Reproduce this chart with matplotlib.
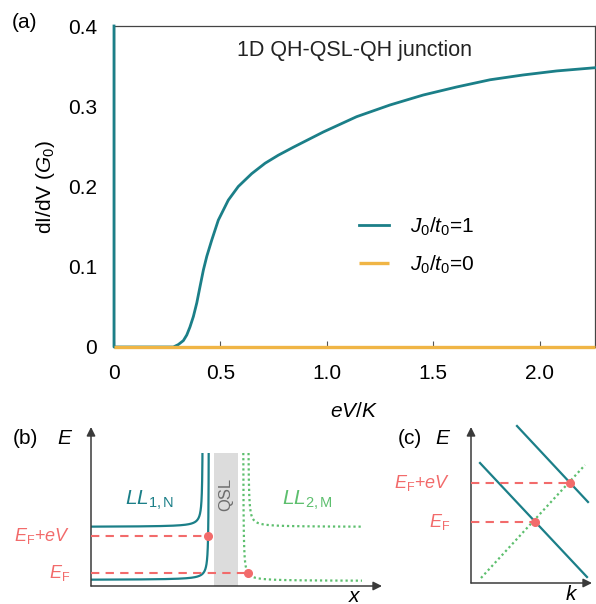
import numpy as np
import matplotlib
matplotlib.use("Agg")
import matplotlib.pyplot as plt
from matplotlib.ticker import FuncFormatter

plt.rcParams['font.family'] = ['Liberation Sans', 'DejaVu Sans']
plt.rcParams['mathtext.fontset'] = 'custom'
plt.rcParams['mathtext.rm'] = 'Liberation Sans'
plt.rcParams['mathtext.it'] = 'Liberation Sans:italic'
plt.rcParams['font.size'] = 15

# ---------------- data: panel (a) ----------------
x_j1 = [0.0, 0.0, 0.25, 0.279, 0.302, 0.326, 0.342, 0.357, 0.373, 0.389, 0.404,
        0.420, 0.436, 0.459, 0.490, 0.537, 0.584, 0.647, 0.710, 0.772, 0.843,
        0.984, 1.140, 1.297, 1.453, 1.610, 1.767, 1.923, 2.080, 2.26]
y_j1 = [0.4, 0.0, 0.0, 0.0, 0.003, 0.008, 0.015, 0.025, 0.038, 0.055, 0.075,
        0.096, 0.113, 0.133, 0.158, 0.183, 0.200, 0.216, 0.229, 0.239, 0.249,
        0.268, 0.287, 0.3016, 0.314, 0.324, 0.333, 0.339, 0.344, 0.348]
x_j0 = [0.0, 2.26]
y_j0 = [0.0, 0.0]
xticks_a = [0, 0.5, 1.0, 1.5, 2.0]
yticks_a = [0, 0.1, 0.2, 0.3, 0.4]
labels_a = [r'$J_0/t_0$=1', r'$J_0/t_0$=0']

# ---------------- schematic parameters: panel (b) ----------------
b_teal_levels = [6, 59]          # level energies (lower, upper)
b_teal_asym = [118, 112]         # vertical asymptote positions
b_green_levels = [5, 59]
b_green_asym = [152, 157]
b_top = 133
b_bend = 40
b_qsl = [123, 147]
b_EF = 13
b_EFeV = 50
b_xend = 271

# ---------------- schematic parameters: panel (c) ----------------
c_teal1 = ([9, 116], [120, 6])
c_teal2 = ([46, 117], [157, 81])
c_green = ([10, 114], [5, 118])
c_EF = (64, 61)
c_EFeV = (99, 100)

teal = '#1b7f88'
orange = '#f0b545'
green = '#5dbf6e'
red = '#f26b6b'
axc = '#3a3a3a'

W, H = 596, 604
fig = plt.figure(figsize=(W / 100, H / 100), dpi=100)

def pos(l, r, t, b):
    return [l / W, 1 - b / H, (r - l) / W, (b - t) / H]

# ---------------- panel (a) ----------------
ax = fig.add_axes(pos(114, 595, 26, 347))
ax.plot(x_j0, y_j0, color=orange, lw=2.4, solid_capstyle='butt', label=labels_a[1],
        zorder=5, clip_on=False)
ax.plot(x_j1, y_j1, color=teal, lw=2.0, label=labels_a[0], zorder=4, clip_on=False,
        solid_joinstyle='round')
ax.set_xlim(0, 2.26)
ax.set_ylim(0, 0.4)
ax.set_xticks(xticks_a)
ax.set_yticks(yticks_a)
fmt = FuncFormatter(lambda v, p: '0' if abs(v) < 1e-9 else f'{v:.1f}')
ax.xaxis.set_major_formatter(fmt)
ax.yaxis.set_major_formatter(fmt)
ax.tick_params(direction='in', length=4, width=0.8, color='#555555', labelsize=15)
ax.tick_params(axis='x', pad=12)
ax.tick_params(axis='y', left=False, pad=12)
for s in ax.spines.values():
    s.set_color('#444444')
    s.set_linewidth(0.9)
ax.set_xlabel(r'$eV/K$', fontsize=15, labelpad=14)
ax.set_ylabel(r'dI/dV ($G_0$)', fontsize=15, labelpad=8)
ax.text(0.5, 0.955, '1D QH-QSL-QH junction', transform=ax.transAxes,
        ha='center', va='top', fontsize=15.5, color='#222222')
handles, labs = ax.get_legend_handles_labels()
leg = ax.legend([handles[1], handles[0]], [labs[1], labs[0]], frameon=False,
                loc='center left', bbox_to_anchor=(0.47, 0.315), handlelength=1.45,
                handletextpad=1.0, labelspacing=0.75, fontsize=15)
fig.text(12 / W, 1 - 23 / H, '(a)', fontsize=15, va='center', ha='left')

# ---------------- panel (b) ----------------
axb = fig.add_axes(pos(91, 382, 427, 586))
axb.set_xlim(0, 291)
axb.set_ylim(0, 159)
axb.axis('off')
axb.axvspan(b_qsl[0], b_qsl[1], ymin=0, ymax=b_top / 159, color='#dcdcdc', lw=0, zorder=1)
axb.text(np.mean(b_qsl), 92, 'QSL', rotation=90, ha='center', va='center',
         fontsize=12, color='#6e6e6e', zorder=2)
for lev, x0 in zip(b_teal_levels, b_teal_asym):
    xs = np.concatenate([np.linspace(0, x0 - 40, 60), x0 - np.geomspace(40, b_bend / (b_top - lev), 300)])
    es = lev + b_bend / (x0 - xs)
    axb.plot(xs, es, color=teal, lw=1.6, zorder=3, solid_capstyle='butt')
for lev, x0 in zip(b_green_levels, b_green_asym):
    d = np.concatenate([np.geomspace(b_bend / (b_top - lev), 40, 300), np.linspace(40, b_xend - x0, 60)[1:]])
    xs = x0 + d
    es = lev + b_bend / d
    axb.plot(xs, es, color=green, lw=1.6, ls=(0, (1, 1.3)), zorder=3)
xd1 = b_teal_asym[0] - b_bend / (b_EFeV - b_teal_levels[0])
xd2 = b_green_asym[0] + b_bend / (b_EF - b_green_levels[0])
axb.plot([0, xd1], [b_EFeV, b_EFeV], color=red, lw=1.5, ls=(0, (4, 3)), zorder=4)
axb.plot([0, xd2], [b_EF, b_EF], color=red, lw=1.5, ls=(0, (4, 3)), zorder=4)
axb.plot([xd1, xd2], [b_EFeV, b_EF], 'o', color=red, ms=5.5, zorder=5, clip_on=False)
ap = dict(arrowstyle='-|>', color=axc, lw=1.1, mutation_scale=13, shrinkA=0, shrinkB=0)
axb.annotate('', xy=(0, 159), xytext=(0, 0), arrowprops=ap, annotation_clip=False)
axb.annotate('', xy=(291, 0), xytext=(0, 0), arrowprops=ap, annotation_clip=False)
axb.text(-26, 148, r'$E$', ha='center', va='center', fontsize=15)
axb.text(-66, 148, '(b)', ha='center', va='center', fontsize=15)
axb.text(264, -10, r'$x$', ha='center', va='center', fontsize=15)
axb.text(59, 86, r'$LL_{\mathrm{1,N}}$', ha='center', va='center', fontsize=15, color=teal)
axb.text(216, 86, r'$LL_{\mathrm{2,M}}$', ha='center', va='center', fontsize=15, color=green)
axb.text(-21, b_EFeV, r'$E_{\mathrm{F}}$+$eV$', ha='right', va='center', fontsize=13, color=red)
axb.text(-21, b_EF, r'$E_{\mathrm{F}}$', ha='right', va='center', fontsize=13, color=red)

# ---------------- panel (c) ----------------
axc_ = fig.add_axes(pos(471, 592, 427, 583))
axc_.set_xlim(0, 121)
axc_.set_ylim(0, 156)
axc_.axis('off')
axc_.plot(*c_teal1, color=teal, lw=1.6, zorder=3, clip_on=False)
axc_.plot(*c_teal2, color=teal, lw=1.6, zorder=3, clip_on=False)
axc_.plot(*c_green, color=green, lw=1.6, ls=(0, (1, 1.3)), zorder=3)
axc_.plot([0, c_EFeV[0]], [c_EFeV[1], c_EFeV[1]], color=red, lw=1.5, ls=(0, (4, 3)), zorder=4)
axc_.plot([0, c_EF[0]], [c_EF[1], c_EF[1]], color=red, lw=1.5, ls=(0, (4, 3)), zorder=4)
axc_.plot([c_EF[0], c_EFeV[0]], [c_EF[1], c_EFeV[1]], 'o', color=red, ms=5.5, zorder=5)
axc_.annotate('', xy=(0, 156), xytext=(0, 0), arrowprops=ap, annotation_clip=False)
axc_.annotate('', xy=(121, 0), xytext=(0, 0), arrowprops=ap, annotation_clip=False)
axc_.text(-28, 145, r'$E$', ha='center', va='center', fontsize=15)
axc_.text(-61, 145, '(c)', ha='center', va='center', fontsize=15)
axc_.text(101, -11, r'$k$', ha='center', va='center', fontsize=15)
axc_.text(-21, c_EFeV[1], r'$E_{\mathrm{F}}$+$eV$', ha='right', va='center', fontsize=13, color=red)
axc_.text(-21, c_EF[1], r'$E_{\mathrm{F}}$', ha='right', va='center', fontsize=13, color=red)

fig.savefig('out.png', dpi=100)
